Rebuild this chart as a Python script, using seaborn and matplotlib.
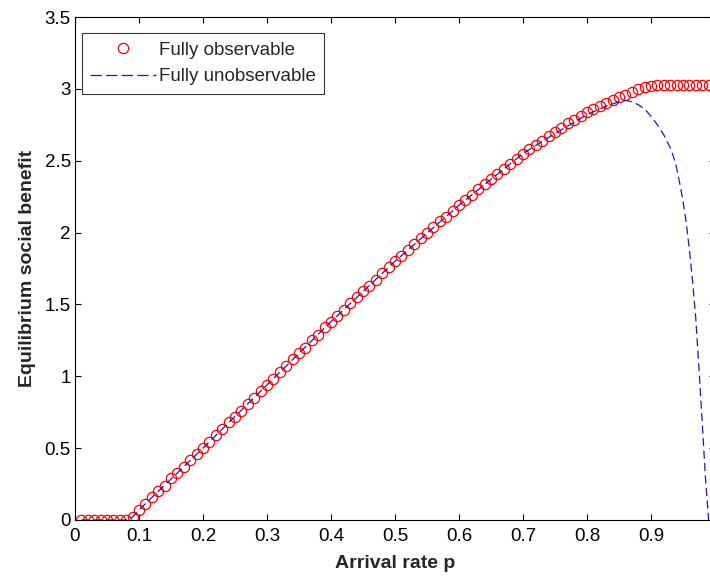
import matplotlib
matplotlib.use("Agg")
import matplotlib.pyplot as plt
import seaborn as sns
import pandas as pd

# ---- data ----
p_obs = [round(0.01 * i, 2) for i in range(1, 100)]
benefit_obs = [
    0, 0, 0, 0, 0, 0, 0, 0, 0.02, 0.07,
    0.11, 0.16, 0.20, 0.24, 0.29, 0.33, 0.37, 0.42, 0.46, 0.50,
    0.54, 0.59, 0.63, 0.68, 0.72, 0.76, 0.81, 0.85, 0.90, 0.94,
    0.98, 1.03, 1.07, 1.12, 1.16, 1.20, 1.25, 1.29, 1.34, 1.38,
    1.42, 1.46, 1.51, 1.55, 1.59, 1.63, 1.67, 1.72, 1.76, 1.80,
    1.84, 1.88, 1.92, 1.96, 2.00, 2.04, 2.08, 2.11, 2.15, 2.19,
    2.23, 2.26, 2.30, 2.34, 2.37, 2.41, 2.44, 2.48, 2.51, 2.55,
    2.58, 2.61, 2.64, 2.67, 2.70, 2.73, 2.76, 2.78, 2.81, 2.84,
    2.86, 2.88, 2.90, 2.92, 2.94, 2.96, 2.98, 3.00, 3.01, 3.02,
    3.03, 3.03, 3.03, 3.03, 3.03, 3.03, 3.03, 3.03, 3.03,
]

p_unobs = [0.01, 0.08, 0.09, 0.10, 0.20, 0.30, 0.40, 0.50, 0.60, 0.70,
           0.75, 0.80, 0.83, 0.85, 0.86, 0.87, 0.88, 0.89, 0.90, 0.91,
           0.92, 0.93, 0.935, 0.94, 0.945, 0.95, 0.955, 0.96, 0.965, 0.97,
           0.975, 0.98, 0.985, 0.99]
benefit_unobs = [0, 0, 0.02, 0.07, 0.50, 0.94, 1.38, 1.80, 2.19, 2.55,
                 2.69, 2.82, 2.88, 2.91, 2.92, 2.91, 2.89, 2.86, 2.81, 2.75,
                 2.68, 2.59, 2.53, 2.45, 2.34, 2.22, 2.07, 1.88, 1.66, 1.40,
                 1.05, 0.68, 0.30, 0.0]

x_ticks = [0, 0.1, 0.2, 0.3, 0.4, 0.5, 0.6, 0.7, 0.8, 0.9, 1.0]
x_tick_labels = ["0", "0.1", "0.2", "0.3", "0.4", "0.5", "0.6", "0.7", "0.8", "0.9", ""]
y_ticks = [0, 0.5, 1, 1.5, 2, 2.5, 3, 3.5]
y_tick_labels = ["0", "0.5", "1", "1.5", "2", "2.5", "3", "3.5"]

df_obs = pd.DataFrame({"p": p_obs, "benefit": benefit_obs})
df_unobs = pd.DataFrame({"p": p_unobs, "benefit": benefit_unobs})

# ---- style ----
sns.set_style("ticks")
plt.rcParams["font.family"] = ["Liberation Sans", "DejaVu Sans"]
plt.rcParams["xtick.direction"] = "in"
plt.rcParams["ytick.direction"] = "in"

fig = plt.figure(figsize=(7.10, 5.76), dpi=100)
W, H = 710, 576
ax = fig.add_axes([75 / W, (H - 520) / H, 640 / W, 503 / H])

sns.lineplot(data=df_obs, x="p", y="benefit", ax=ax, linestyle="none",
             marker="o", markersize=7.4, markerfacecolor="none",
             markeredgecolor="#ff0000", markeredgewidth=0.9,
             color="#ff0000", label="Fully observable", zorder=2)
sns.lineplot(data=df_unobs, x="p", y="benefit", ax=ax, color="#1a1ab8",
             linewidth=0.9, dashes=False, label="Fully unobservable", zorder=3)
ax.lines[-1].set_dashes((6.5, 3.5))

ax.set_xlim(0, 1)
ax.set_ylim(0, 3.5)
ax.set_xticks(x_ticks)
ax.set_xticklabels(x_tick_labels)
ax.set_yticks(y_ticks)
ax.set_yticklabels(y_tick_labels)
ax.tick_params(axis="both", which="both", direction="in", length=4.5, width=0.8,
               labelsize=13.5, colors="black", top=True, right=True, pad=3)
ax.tick_params(axis="x", pad=6)
for s in ax.spines.values():
    s.set_linewidth(0.8)
    s.set_color("black")
    s.set_visible(True)

ax.set_xlabel("Arrival rate p", fontsize=14, fontweight="bold", labelpad=7)
ax.set_ylabel("Equilibrium social benefit", fontsize=14, fontweight="bold", labelpad=6)

leg = ax.legend(loc="upper left", bbox_to_anchor=(7 / 640, 1 - 16 / 503),
                borderaxespad=0, frameon=True, fancybox=False, fontsize=13.5,
                handlelength=3.5, handletextpad=0.15, borderpad=0.45,
                labelspacing=0.5, edgecolor="black")
leg.get_frame().set_linewidth(0.8)
leg.get_lines()[1].set_dashes((9, 3.5))

fig.savefig("out.png", dpi=100)
